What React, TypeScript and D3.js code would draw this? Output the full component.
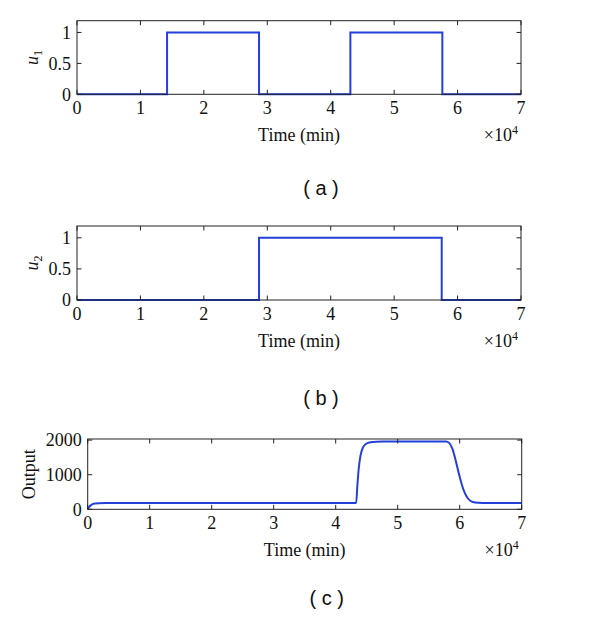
import React from "react";
import * as d3 from "d3";

const xTicks = [0, 1, 2, 3, 4, 5, 6, 7];
const uTicks = [0, 0.5, 1];
const outTicks = [0, 1000, 2000];

// switch times (×10^4 min) and held values (step after)
const u1Times = [0, 1.42, 2.87, 4.31, 5.76, 7];
const u1Values = [0, 1, 0, 1, 0, 0];
const u2Times = [0, 2.87, 5.75, 7];
const u2Values = [0, 1, 0, 0];

const outTimes = [0, 0.02, 0.05, 0.08, 0.12, 0.18, 0.3, 0.6, 1, 2, 3, 4, 4.33, 4.35, 4.37, 4.4, 4.44, 4.48, 4.53, 4.6, 4.75, 5, 5.4, 5.78, 5.83, 5.88, 5.93, 5.98, 6.03, 6.08, 6.13, 6.2, 6.3, 6.45, 7];
const outValues = [0, 60, 115, 150, 168, 176, 180, 180, 180, 180, 182, 182, 182, 700, 1150, 1550, 1790, 1880, 1925, 1948, 1958, 1962, 1962, 1960, 1920, 1760, 1450, 1080, 740, 480, 320, 220, 188, 182, 182];

const BLUE = "#2340d8";
const AX = "#222";
const SERIF = "'Liberation Serif', 'DejaVu Serif', serif";
const SANS = "'Liberation Sans', Arial, sans-serif";

type PanelProps = {
  left: number; right: number; top: number; bottom: number;
  yDomain: [number, number]; yTicks: number[];
  times: number[]; values: number[]; step: boolean;
  yLabel: React.ReactNode; yLabelX: number;
  letter: string; letterY: number;
  tickFmt: (v: number) => string;
};

function Panel(p: PanelProps) {
  const x = d3.scaleLinear().domain([0, 7]).range([p.left, p.right]);
  const y = d3.scaleLinear().domain(p.yDomain).range([p.bottom, p.top]);
  const pts = p.times.map((t, i) => [t, p.values[i]] as [number, number]);
  const line = d3.line<[number, number]>()
    .x(d => x(d[0]))
    .y(d => y(d[1]))
    .curve(p.step ? d3.curveStepAfter : d3.curveMonotoneX);
  const tl = 4.5;
  const cx = (p.left + p.right) / 2;
  const cy = (p.top + p.bottom) / 2;
  return (
    <g>
      <path d={line(pts) || ""} fill="none" stroke={BLUE} strokeWidth={2} />
      <rect x={p.left} y={p.top} width={p.right - p.left} height={p.bottom - p.top}
        fill="none" stroke={AX} strokeWidth={1} />
      {xTicks.map(t => (
        <g key={"x" + t}>
          <line x1={x(t)} x2={x(t)} y1={p.bottom} y2={p.bottom - tl} stroke={AX} />
          <line x1={x(t)} x2={x(t)} y1={p.top} y2={p.top + tl} stroke={AX} />
          <text x={x(t)} y={p.bottom + 20} textAnchor="middle" fontFamily={SERIF} fontSize={18} fill="#111">{t}</text>
        </g>
      ))}
      {p.yTicks.map(t => (
        <g key={"y" + t}>
          <line x1={p.left} x2={p.left + tl} y1={y(t)} y2={y(t)} stroke={AX} />
          <line x1={p.right} x2={p.right - tl} y1={y(t)} y2={y(t)} stroke={AX} />
          <text x={p.left - 6} y={y(t)} dy="0.35em" textAnchor="end" fontFamily={SERIF} fontSize={18} fill="#111">{p.tickFmt(t)}</text>
        </g>
      ))}
      <text x={cx} y={p.bottom + 47} textAnchor="middle" fontFamily={SERIF} fontSize={18} fill="#111">Time (min)</text>
      <text x={p.right - 3} y={p.bottom + 47} textAnchor="end" fontFamily={SERIF} fontSize={18} fill="#111">
        ×10<tspan fontSize={12} dy="-7">4</tspan>
      </text>
      <text transform={`translate(${p.yLabelX},${cy}) rotate(-90)`} textAnchor="middle" fontFamily={SERIF} fontSize={18} fill="#111">
        {p.yLabel}
      </text>
      <text x={cx + 22} y={p.letterY} dy="0.35em" textAnchor="middle" fontFamily={SANS} fontSize={20} fill="#111" xmlSpace="preserve">{`( ${p.letter} )`}</text>
    </g>
  );
}

export default function App() {
  const uFmt = (v: number) => String(v);
  return (
    <svg width={600} height={620} style={{ position: "absolute", left: 0, top: 0, background: "#fff" }}>
      <Panel left={77} right={521} top={20.7} bottom={94.3} yDomain={[0, 1.19]} yTicks={uTicks}
        times={u1Times} values={u1Values} step={true}
        yLabel={<><tspan fontStyle="italic">u</tspan><tspan fontSize={12} dy="4">1</tspan></>} yLabelX={38}
        letter="a" letterY={188} tickFmt={uFmt} />
      <Panel left={77} right={521} top={226} bottom={300} yDomain={[0, 1.19]} yTicks={uTicks}
        times={u2Times} values={u2Values} step={true}
        yLabel={<><tspan fontStyle="italic">u</tspan><tspan fontSize={12} dy="4">2</tspan></>} yLabelX={38}
        letter="b" letterY={398} tickFmt={uFmt} />
      <Panel left={87.7} right={521.7} top={439} bottom={509.3} yDomain={[0, 2032]} yTicks={outTicks}
        times={outTimes} values={outValues} step={false}
        yLabel="Output" yLabelX={35}
        letter="c" letterY={598} tickFmt={uFmt} />
    </svg>
  );
}
